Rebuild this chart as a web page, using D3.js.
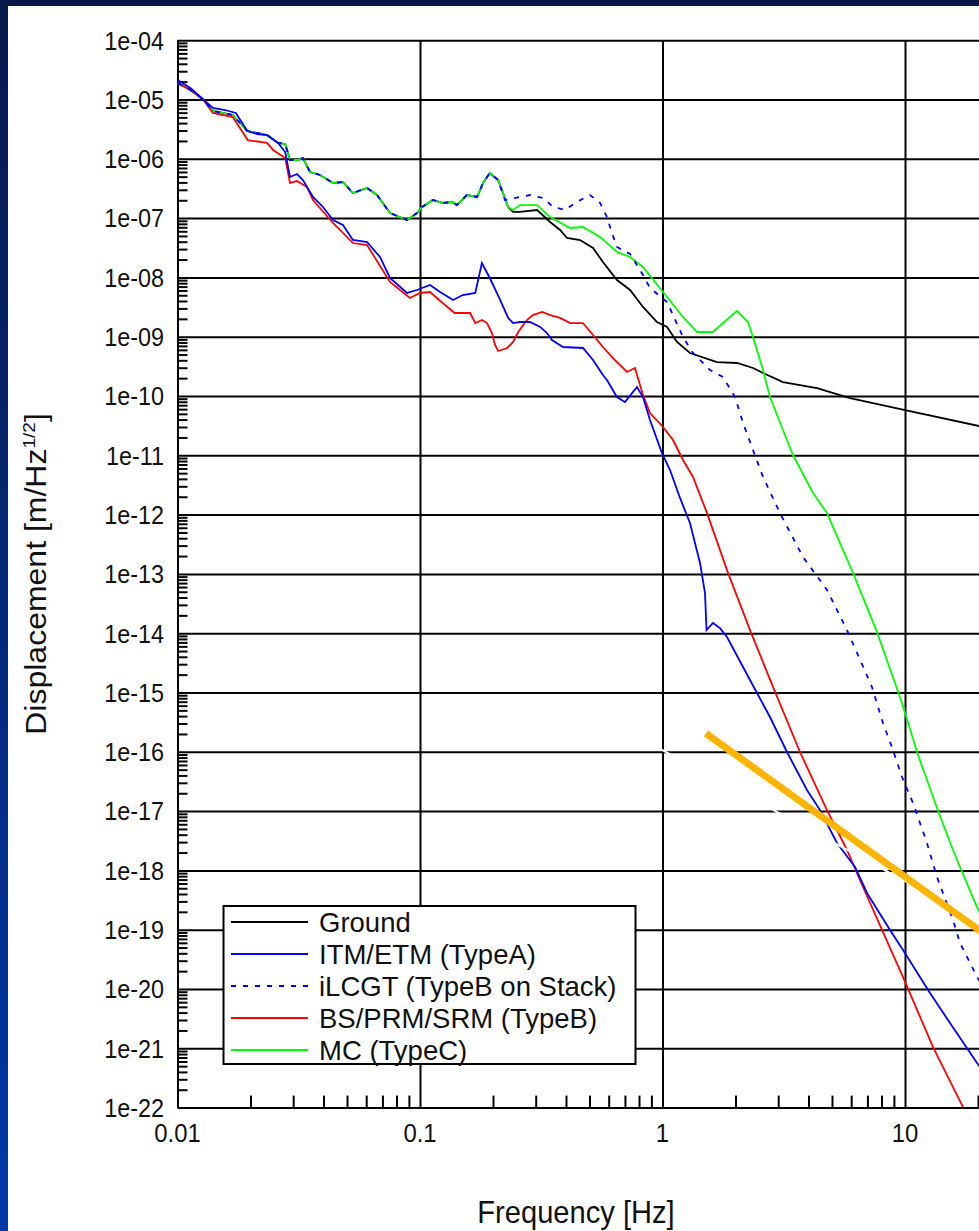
<!DOCTYPE html>
<html>
<head>
<meta charset="utf-8">
<style>
  body { margin: 0; background: #0a2266; }
  svg { display: block; font-family: "Liberation Sans", Arial, sans-serif; }
</style>
</head>
<body>
<div id="chart"></div>
<script src="https://cdn.jsdelivr.net/npm/d3@7/dist/d3.min.js"></script>
<script>
var svgWidth = 979;
var svgHeight = 1231;

// plot box; the right part runs past the window like the slide crop
var margin = { top: 40.2, left: 177.5 };
var decadeX = 242.5;
var decadeY = 59.3;
var plotW = 4 * decadeX;
var plotH = 18 * decadeY;

// ---- data: [frequency Hz, displacement m/rtHz] ----
// ground, MC and iLCGT run together below ~0.21 Hz
var lowCommon = [
  [0.01, 1.90e-5], [0.0113, 1.45e-5], [0.0127, 1.02e-5], [0.0140, 6.40e-6], [0.0169, 5.48e-6],
  [0.0194, 2.94e-6], [0.0234, 2.52e-6], [0.0260, 1.85e-6], [0.0278, 1.78e-6], [0.0291, 9.55e-7],
  [0.0311, 9.55e-7], [0.0329, 1.03e-6], [0.0352, 5.99e-7], [0.0387, 5.33e-7], [0.0438, 3.91e-7],
  [0.0481, 4.06e-7], [0.0529, 2.65e-7], [0.0605, 3.22e-7], [0.0665, 2.45e-7], [0.0752, 1.22e-7],
  [0.0884, 9.29e-8], [0.0972, 1.22e-7], [0.102, 1.54e-7], [0.113, 2.02e-7], [0.124, 1.80e-7],
  [0.136, 1.87e-7], [0.142, 1.66e-7], [0.156, 2.45e-7], [0.172, 2.27e-7], [0.182, 3.91e-7],
  [0.194, 5.76e-7], [0.210, 4.39e-7]
];

var groundHigh = [
  [0.231, 1.54e-7], [0.242, 1.27e-7], [0.258, 1.27e-7], [0.304, 1.37e-7], [0.344, 8.59e-8],
  [0.378, 6.30e-8], [0.404, 4.62e-8], [0.457, 4.27e-8], [0.517, 3.13e-8], [0.568, 1.82e-8],
  [0.649, 9.04e-9], [0.735, 6.13e-9], [0.831, 3.17e-9], [0.949, 1.77e-9], [1.044, 1.46e-9],
  [1.148, 8.14e-10], [1.298, 5.31e-10], [1.677, 3.74e-10], [2.029, 3.60e-10], [2.362, 2.97e-10],
  [2.597, 2.44e-10], [3.139, 1.72e-10], [4.337, 1.36e-10], [5.932, 9.25e-11], [9.906, 5.81e-11],
  [20.2, 3.12e-11], [22.4, 2.88e-11]
];

var mcHigh = [
  [0.231, 1.54e-7], [0.242, 1.37e-7], [0.258, 1.66e-7], [0.304, 1.66e-7], [0.344, 1.04e-7],
  [0.416, 6.81e-8], [0.470, 7.08e-8], [0.553, 4.80e-8], [0.649, 2.68e-8], [0.735, 2.21e-8],
  [0.831, 1.50e-8], [1.005, 5.67e-9], [1.215, 2.15e-9], [1.388, 1.20e-9], [1.615, 1.20e-9],
  [1.776, 1.70e-9], [2.029, 2.71e-9], [2.252, 1.77e-9], [2.362, 9.88e-10], [2.597, 2.74e-10],
  [2.775, 9.62e-11], [3.139, 2.67e-11], [3.452, 1.01e-11], [4.175, 2.31e-12], [4.768, 1.06e-12],
  [6.104, 1.04e-13], [7.663, 1.05e-14], [9.719, 6.65e-16], [11.21, 9.92e-17], [13.55, 1.13e-17],
  [15.77, 2.21e-18], [16.86, 1.14e-18], [19.82, 2.41e-19], [22.4, 8.1e-20]
];

var ilcgtHigh = [
  [0.224, 2.02e-7], [0.258, 2.27e-7], [0.284, 2.45e-7], [0.322, 2.18e-7], [0.354, 1.54e-7],
  [0.396, 1.37e-7], [0.444, 1.87e-7], [0.502, 2.45e-7], [0.553, 1.80e-7], [0.590, 1.04e-7],
  [0.619, 5.61e-8], [0.649, 3.26e-8], [0.735, 2.48e-8], [0.831, 1.10e-8], [0.888, 6.62e-9],
  [1.044, 3.85e-9], [1.215, 9.88e-10], [1.336, 5.31e-10], [1.570, 2.74e-10], [1.776, 2.09e-10],
  [1.991, 9.62e-11], [2.148, 3.51e-11], [2.362, 1.23e-11], [2.597, 4.31e-12], [3.051, 1.06e-12],
  [3.796, 1.93e-13], [4.768, 5.35e-14], [5.765, 1.13e-14], [7.308, 1.24e-15], [8.115, 3.06e-16],
  [8.923, 1.07e-16], [9.719, 3.76e-17], [10.79, 1.37e-17], [12.32, 2.90e-18], [13.55, 7.74e-19],
  [15.77, 1.46e-19], [16.86, 5.97e-20], [19.82, 1.59e-20], [22.4, 7.05e-21]
];

var itmData = [
  [0.01, 2.13e-5], [0.0113, 1.56e-5], [0.0127, 1.02e-5], [0.0140, 7.19e-6], [0.0157, 6.65e-6],
  [0.0174, 5.92e-6], [0.0194, 2.94e-6], [0.0213, 2.62e-6], [0.0234, 2.52e-6], [0.0260, 1.85e-6],
  [0.0278, 1.30e-6], [0.0291, 4.93e-7], [0.0311, 5.54e-7], [0.0329, 4.39e-7], [0.0362, 2.27e-7],
  [0.0398, 1.54e-7], [0.0438, 9.29e-8], [0.0481, 7.65e-8], [0.0529, 4.27e-8], [0.0605, 3.95e-8],
  [0.0684, 2.21e-8], [0.0752, 9.77e-9], [0.0884, 5.46e-9], [0.0972, 6.13e-9], [0.110, 7.44e-9],
  [0.121, 5.67e-9], [0.137, 4.16e-9], [0.150, 5.05e-9], [0.169, 5.46e-9], [0.180, 1.75e-8],
  [0.194, 9.77e-9], [0.214, 4.16e-9], [0.231, 2.07e-9], [0.242, 1.70e-9], [0.258, 1.77e-9],
  [0.284, 1.77e-9], [0.313, 1.46e-9], [0.334, 1.15e-9], [0.350, 8.80e-10], [0.389, 6.70e-10],
  [0.470, 6.45e-10], [0.517, 4.05e-10], [0.568, 2.26e-10], [0.590, 1.86e-10], [0.649, 9.62e-11],
  [0.700, 7.92e-11], [0.749, 1.12e-10], [0.785, 1.42e-10], [0.831, 9.62e-11], [0.888, 3.94e-11],
  [0.995, 1.09e-11], [1.074, 5.65e-12], [1.181, 1.91e-12], [1.298, 7.22e-13], [1.428, 1.53e-13],
  [1.497, 4.76e-14], [1.519, 1.13e-14], [1.615, 1.49e-14], [1.726, 1.22e-14], [1.845, 8.63e-15],
  [2.148, 2.69e-15], [2.453, 9.81e-16], [2.775, 3.86e-16], [3.261, 9.92e-17], [3.943, 2.27e-17],
  [4.462, 1.04e-17], [5.243, 2.90e-18], [6.221, 1.14e-18], [6.970, 4.16e-19], [8.674, 9.88e-20],
  [9.812, 4.55e-20], [12.68, 8.56e-21], [15.33, 2.67e-21], [19.82, 5.65e-22], [22.4, 2.92e-22]
];

var bsData = [
  [0.01, 1.90e-5], [0.0113, 1.45e-5], [0.0127, 1.02e-5], [0.0140, 5.92e-6], [0.0169, 5.07e-6],
  [0.0195, 2.07e-6], [0.0234, 1.85e-6], [0.0248, 1.41e-6], [0.0278, 1.03e-6], [0.0291, 3.91e-7],
  [0.0311, 4.22e-7], [0.0342, 3.34e-7], [0.0362, 2.02e-7], [0.0438, 8.27e-8], [0.0529, 3.80e-8],
  [0.0605, 3.52e-8], [0.0752, 8.36e-9], [0.0909, 4.49e-9], [0.100, 5.46e-9], [0.110, 5.67e-9],
  [0.124, 3.70e-9], [0.139, 2.51e-9], [0.161, 2.51e-9], [0.169, 1.70e-9], [0.180, 1.91e-9],
  [0.189, 1.70e-9], [0.198, 1.15e-9], [0.204, 7.24e-10], [0.210, 5.74e-10], [0.229, 6.45e-10],
  [0.242, 8.14e-10], [0.254, 1.20e-9], [0.276, 1.91e-9], [0.292, 2.32e-9], [0.319, 2.61e-9],
  [0.344, 2.32e-9], [0.378, 2.07e-9], [0.416, 1.70e-9], [0.470, 1.70e-9], [0.517, 1.07e-9],
  [0.568, 6.70e-10], [0.625, 4.37e-10], [0.714, 2.54e-10], [0.770, 2.97e-10], [0.831, 1.04e-10],
  [0.888, 5.17e-11], [1.005, 3.00e-11], [1.105, 1.81e-11], [1.215, 8.34e-12], [1.336, 4.31e-12],
  [1.526, 1.06e-12], [1.863, 1.04e-13], [2.296, 1.13e-14], [2.855, 1.24e-15], [3.690, 9.92e-17],
  [4.768, 1.04e-17], [5.765, 2.21e-18], [6.711, 5.25e-19], [8.115, 9.14e-20], [9.812, 1.59e-20],
  [13.05, 1.05e-21], [17.35, 1.02e-22], [19.4, 4.2e-23]
];

// hand-drawn overlay lines on the slide
var orangeLine = [[1.51, 2.05e-16], [22.4, 7.28e-20]];
var whiteTrace = [[0.931, 1.25e-16], [10.5, 5.90e-19]];

var xTickLabels = ["0.01", "0.1", "1", "10"];
var yTickLabels = ["1e-04", "1e-05", "1e-06", "1e-07", "1e-08", "1e-09", "1e-10", "1e-11", "1e-12",
  "1e-13", "1e-14", "1e-15", "1e-16", "1e-17", "1e-18", "1e-19", "1e-20", "1e-21", "1e-22"];

var seriesNames = ["Ground", "ITM/ETM (TypeA)", "iLCGT (TypeB on Stack)", "BS/PRM/SRM (TypeB)", "MC (TypeC)"];
var seriesColors = ["#000000", "#0000ff", "#0000ff", "#ff0000", "#00ff00"];
var seriesDash = [null, null, "5,7", null, null];

// ---- svg + slide background ----
var svg = d3.select("#chart")
  .append("svg")
  .attr("width", svgWidth)
  .attr("height", svgHeight);

var grad = svg.append("defs").append("linearGradient")
  .attr("id", "bg").attr("x1", 0).attr("y1", 0).attr("x2", 0).attr("y2", 1);
grad.append("stop").attr("offset", "0%").attr("stop-color", "#08194a");
grad.append("stop").attr("offset", "100%").attr("stop-color", "#0038a8");

svg.append("rect").attr("width", svgWidth).attr("height", svgHeight).attr("fill", "url(#bg)");
svg.append("rect")
  .attr("x", 8).attr("y", 6)
  .attr("width", svgWidth - 8).attr("height", svgHeight - 6)
  .attr("fill", "#ffffff");

svg.select("defs").append("clipPath").attr("id", "plotClip")
  .append("rect")
  .attr("x", margin.left).attr("y", margin.top)
  .attr("width", plotW).attr("height", plotH);

var xScale = d3.scaleLog().domain([0.01, 100]).range([margin.left, margin.left + plotW]);
var yScale = d3.scaleLog().domain([1e-22, 1e-4]).range([margin.top + plotH, margin.top]);

var xMajor = xTickLabels.map(Number).concat([100]);
var yMajor = yTickLabels.map(Number);
var isDecade = d => Math.abs(Math.log10(d) - Math.round(Math.log10(d))) < 1e-6;
var xMinor = xScale.ticks(60).filter(d => !isDecade(d));
var yMinor = yScale.ticks(200).filter(d => !isDecade(d));

function styleAxis(g) {
  g.selectAll(".domain").attr("stroke", "#000").attr("stroke-width", 2);
  g.selectAll(".tick line").attr("stroke", "#000").attr("stroke-width", 2);
  g.selectAll(".tick text").remove();
}

// grid (major) and inside minor ticks
svg.append("g")
  .attr("transform", `translate(0, ${margin.top + plotH})`)
  .call(d3.axisBottom(xScale).tickValues(xMajor).tickSize(-plotH).tickSizeOuter(0).tickFormat(""))
  .call(styleAxis);
svg.append("g")
  .attr("transform", `translate(0, ${margin.top + plotH})`)
  .call(d3.axisBottom(xScale).tickValues(xMinor).tickSize(-12).tickSizeOuter(0).tickFormat(""))
  .call(styleAxis);
svg.append("g")
  .attr("transform", `translate(${margin.left}, 0)`)
  .call(d3.axisLeft(yScale).tickValues(yMajor).tickSize(-plotW).tickSizeOuter(0).tickFormat(""))
  .call(styleAxis);
svg.append("g")
  .attr("transform", `translate(${margin.left}, 0)`)
  .call(d3.axisLeft(yScale).tickValues(yMinor).tickSize(-10).tickSizeOuter(0).tickFormat(""))
  .call(styleAxis);

// tick labels (slightly condensed like the original)
svg.append("g").selectAll("text")
  .data(yTickLabels)
  .enter()
  .append("text")
  .attr("transform", d => `translate(164, ${yScale(+d)}) scale(0.9, 1)`)
  .attr("dy", "0.36em")
  .attr("text-anchor", "end")
  .style("font-size", "26px")
  .attr("fill", "#111")
  .text(d => d);

svg.append("g").selectAll("text")
  .data(xTickLabels)
  .enter()
  .append("text")
  .attr("transform", d => `translate(${xScale(+d)}, 1142) scale(0.92, 1)`)
  .attr("text-anchor", "middle")
  .style("font-size", "26px")
  .attr("fill", "#111")
  .text(d => d);

// axis titles
svg.append("text")
  .attr("transform", "translate(576, 1223) scale(0.91, 1)")
  .attr("text-anchor", "middle")
  .style("font-size", "32px")
  .attr("fill", "#111")
  .text("Frequency [Hz]");

var yTitle = svg.append("text")
  .attr("transform", "translate(46, 574) scale(0.9, 1) rotate(-90)")
  .attr("text-anchor", "middle")
  .style("font-size", "32px")
  .attr("fill", "#111");
yTitle.append("tspan").text("Displacement [m/Hz");
yTitle.append("tspan").attr("dy", -12).style("font-size", "19px").text("1/2");
yTitle.append("tspan").attr("dy", 12).text("]");

// curves
var line = d3.line()
  .x(d => xScale(d[0]))
  .y(d => yScale(d[1]));

var curves = svg.append("g").attr("clip-path", "url(#plotClip)");

var seriesData = [
  lowCommon.concat(groundHigh),
  itmData,
  lowCommon.concat(ilcgtHigh),
  bsData,
  lowCommon.concat(mcHigh)
];
// drawing order: ground, MC, BS, ITM, iLCGT on top
[0, 4, 3, 1, 2].forEach(function(i) {
  curves.append("path")
    .datum(seriesData[i])
    .attr("d", line)
    .attr("fill", "none")
    .attr("stroke", seriesColors[i])
    .attr("stroke-width", 1.8)
    .attr("stroke-dasharray", seriesDash[i]);
});

curves.append("path")
  .datum(whiteTrace)
  .attr("d", line)
  .attr("fill", "none")
  .attr("stroke", "#ffffff")
  .attr("stroke-width", 2);

curves.append("path")
  .datum(orangeLine)
  .attr("d", line)
  .attr("fill", "none")
  .attr("stroke", "#ffb400")
  .attr("stroke-width", 7);

// legend
var legend = svg.append("g");
legend.append("rect")
  .attr("x", 223.5).attr("y", 906)
  .attr("width", 412).attr("height", 158)
  .attr("fill", "#ffffff")
  .attr("stroke", "#000")
  .attr("stroke-width", 2);

var rows = legend.selectAll("g.row")
  .data(seriesNames)
  .enter()
  .append("g")
  .attr("transform", (d, i) => `translate(0, ${922 + i * 32})`);
rows.append("line")
  .attr("x1", 231).attr("x2", 308)
  .attr("stroke", (d, i) => seriesColors[i])
  .attr("stroke-width", 2)
  .attr("stroke-dasharray", (d, i) => seriesDash[i]);
rows.append("text")
  .attr("x", 319)
  .attr("dy", "0.35em")
  .style("font-size", "27.5px")
  .attr("fill", "#111")
  .text(d => d);
</script>
</body>
</html>
